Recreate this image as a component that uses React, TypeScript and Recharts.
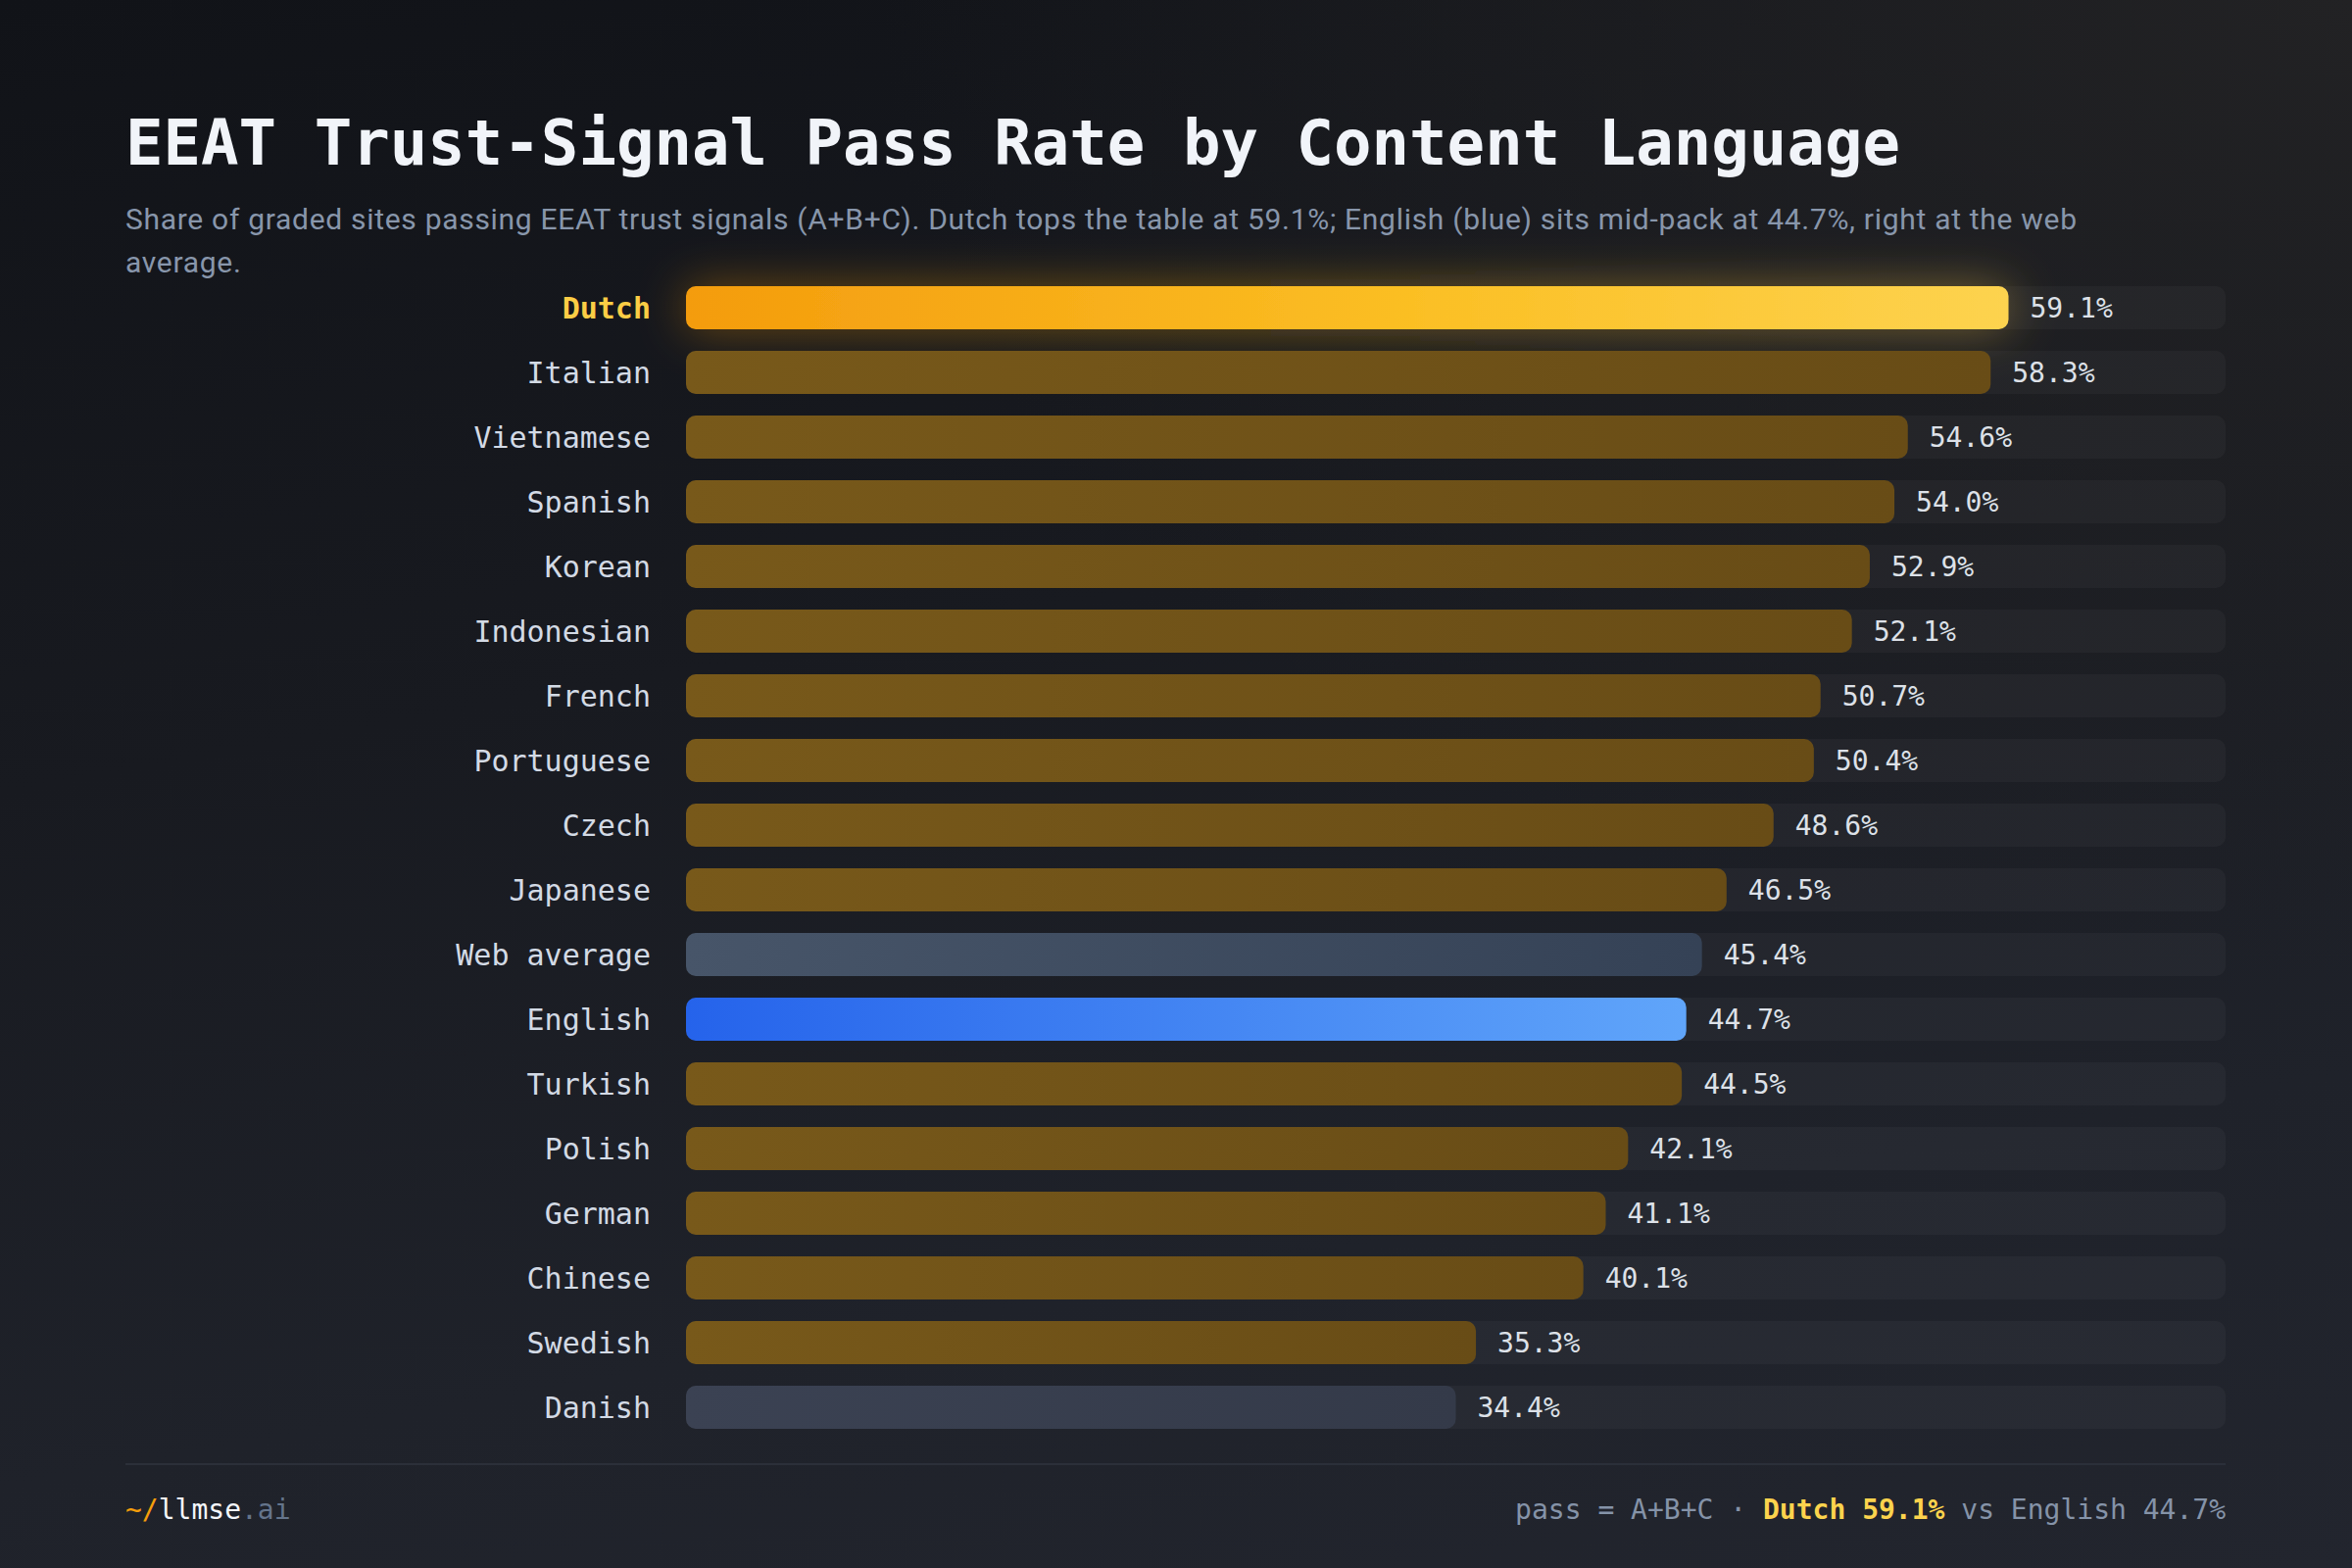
import { BarChart, Bar, XAxis, YAxis, LabelList, Rectangle } from "recharts";

// pass rate (%) per content language, top to bottom
const languages = [
  "Dutch",
  "Italian",
  "Vietnamese",
  "Spanish",
  "Korean",
  "Indonesian",
  "French",
  "Portuguese",
  "Czech",
  "Japanese",
  "Web average",
  "English",
  "Turkish",
  "Polish",
  "German",
  "Chinese",
  "Swedish",
  "Danish",
];
const passRates = [
  59.1, 58.3, 54.6, 54.0, 52.9, 52.1, 50.7, 50.4, 48.6, 46.5, 45.4, 44.7, 44.5,
  42.1, 41.1, 40.1, 35.3, 34.4,
];
const leader = "Dutch";
const baseline = "English";
const average = "Web average";
const muted = ["Danish"];

const rows = languages.map((name, i) => ({ name, value: passRates[i] }));

const MONO = '"DejaVu Sans Mono", "Liberation Mono", monospace';
const SANS = 'Roboto, "Noto Sans", sans-serif';

function fillFor(name: string) {
  if (name === leader) return "url(#barLeader)";
  if (name === baseline) return "url(#barBlue)";
  if (name === average) return "url(#barAvg)";
  if (muted.includes(name)) return "url(#barMuted)";
  return "url(#barAmber)";
}

function BarShape(props: any) {
  const { x, y, width, height, payload } = props;
  const name = payload?.name;
  return (
    <Rectangle
      x={x}
      y={y}
      width={width}
      height={height}
      radius={10}
      fill={fillFor(name)}
      filter={name === leader ? "url(#leaderGlow)" : undefined}
    />
  );
}

function LanguageTick({ x, y, payload }: any) {
  const isLeader = payload.value === leader;
  return (
    <text
      x={x}
      y={y}
      dy="0.36em"
      textAnchor="end"
      fontFamily={MONO}
      fontSize={30}
      fontWeight={isLeader ? 700 : 400}
      fill={isLeader ? "#fbcd45" : "#d3dae5"}
    >
      {payload.value}
    </text>
  );
}

export default function App() {
  return (
    <div
      style={{
        position: "absolute",
        left: 0,
        top: 0,
        width: 2400,
        height: 1600,
        overflow: "hidden",
        background:
          "radial-gradient(ellipse 1500px 1000px at 100% 0%, rgba(34,34,36,1) 0%, rgba(34,34,36,0) 100%), linear-gradient(170deg, #111318 0%, #181a20 40%, #1f222a 75%, #22252e 100%)",
      }}
    >
      <div style={{ position: "absolute", left: 0, top: 0 }}>
        <BarChart
          width={2400}
          height={1600}
          data={rows}
          layout="vertical"
          margin={{ top: 281, right: 129, bottom: 131, left: 0 }}
          barSize={44}
        >
          <defs>
            <linearGradient id="barLeader" x1="0" y1="0" x2="1" y2="0">
              <stop offset="0%" stopColor="#f49c0d" />
              <stop offset="55%" stopColor="#fbbf24" />
              <stop offset="100%" stopColor="#fdd34f" />
            </linearGradient>
            <linearGradient id="barAmber" x1="0" y1="0" x2="1" y2="0">
              <stop offset="0%" stopColor="#78591a" />
              <stop offset="100%" stopColor="#684c16" />
            </linearGradient>
            <linearGradient id="barBlue" x1="0" y1="0" x2="1" y2="0">
              <stop offset="0%" stopColor="#2563eb" />
              <stop offset="100%" stopColor="#60a5fa" />
            </linearGradient>
            <linearGradient id="barAvg" x1="0" y1="0" x2="1" y2="0">
              <stop offset="0%" stopColor="#475569" />
              <stop offset="100%" stopColor="#354256" />
            </linearGradient>
            <linearGradient id="barMuted" x1="0" y1="0" x2="1" y2="0">
              <stop offset="0%" stopColor="#3b4253" />
              <stop offset="100%" stopColor="#343a49" />
            </linearGradient>
            <filter id="leaderGlow" x="-6%" y="-250%" width="112%" height="600%">
              <feGaussianBlur in="SourceGraphic" stdDeviation="24" result="blur" />
              <feColorMatrix
                in="blur"
                type="matrix"
                values="1 0 0 0 0  0 0.9 0 0 0  0 0 0.8 0 0  0 0 0 0.4 0"
                result="soft"
              />
              <feMerge>
                <feMergeNode in="soft" />
                <feMergeNode in="SourceGraphic" />
              </feMerge>
            </filter>
          </defs>
          <XAxis type="number" dataKey="value" domain={[0, 68.8]} hide />
          <YAxis
            type="category"
            dataKey="name"
            width={700}
            axisLine={false}
            tickLine={false}
            tickSize={6}
            tickMargin={30}
            interval={0}
            tick={<LanguageTick />}
          />
          <Bar
            dataKey="value"
            isAnimationActive={false}
            shape={<BarShape />}
            background={{ fill: "rgba(255,255,255,0.035)", radius: 10 } as any}
          >
            <LabelList
              dataKey="value"
              position="right"
              offset={22}
              formatter={(v: any) => `${Number(v).toFixed(1)}%`}
              fill="#dde1e8"
              fontSize={28}
              fontFamily={MONO}
            />
          </Bar>
        </BarChart>
      </div>

      <div
        style={{
          position: "absolute",
          left: 128,
          top: 114,
          fontFamily: MONO,
          fontWeight: 700,
          fontSize: 64,
          lineHeight: "64px",
          color: "#f1f4f9",
          whiteSpace: "nowrap",
        }}
      >
        EEAT Trust-Signal Pass Rate by Content Language
      </div>
      <div
        style={{
          position: "absolute",
          left: 128,
          top: 202,
          fontFamily: SANS,
          fontSize: 30,
          letterSpacing: 0.7,
          lineHeight: "44px",
          color: "#8896ab",
          whiteSpace: "nowrap",
        }}
      >
        Share of graded sites passing EEAT trust signals (A+B+C). Dutch tops the
        table at 59.1%; English (blue) sits mid-pack at 44.7%, right at the web
        <br />
        average.
      </div>

      <div
        style={{
          position: "absolute",
          left: 128,
          top: 1493,
          width: 2143,
          height: 2,
          background: "#2b2f39",
        }}
      />
      <div
        style={{
          position: "absolute",
          left: 128,
          top: 1521,
          fontFamily: MONO,
          fontSize: 28,
          lineHeight: "40px",
          whiteSpace: "nowrap",
        }}
      >
        <span style={{ color: "#f59e0b" }}>~/</span>
        <span style={{ color: "#f4f6fa" }}>llmse</span>
        <span style={{ color: "#64748b" }}>.ai</span>
      </div>
      <div
        style={{
          position: "absolute",
          right: 129,
          top: 1521,
          fontFamily: MONO,
          fontSize: 28,
          lineHeight: "40px",
          color: "#8593a8",
          whiteSpace: "nowrap",
        }}
      >
        pass = A+B+C ·{" "}
        <span style={{ color: "#fcd34d", fontWeight: 700 }}>Dutch 59.1%</span> vs
        English 44.7%
      </div>
    </div>
  );
}
